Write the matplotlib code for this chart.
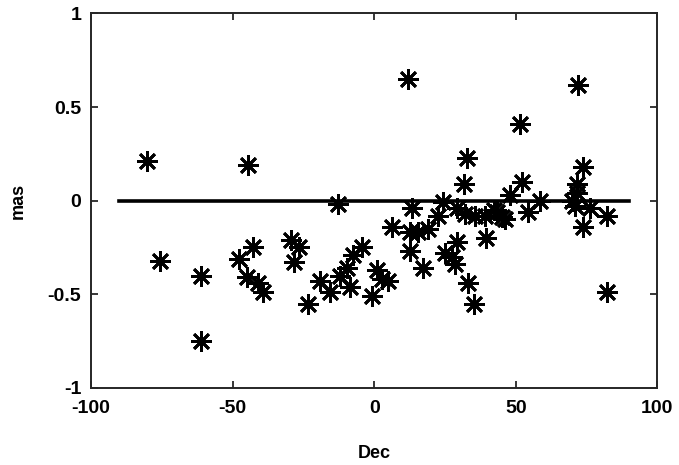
import matplotlib
matplotlib.use("Agg")
import matplotlib.pyplot as plt

plt.rcParams['font.family'] = ['Liberation Sans', 'DejaVu Sans']

dec = [-80.2, -44.5, -75.6, -61.1, -61.1, -47.7, -42.8, -44.9, -41.0, -39.2,
       -29.3, -26.5, -28.3, -23.3, -19.1, -15.5, -12.7, -12.0, -8.5, -9.5,
       -7.4, -4.2, 1.1, -0.7, 2.8, 4.9, 6.4, 12.0, 13.4, 12.7,
       15.5, 12.7, 17.3, 19.1, 22.6, 24.4, 29.3, 29.3, 25.1, 28.6,
       33.2, 35.3, 32.9, 31.8, 32.2, 35.7, 39.2, 39.6, 42.4, 45.2,
       46.3, 48.1, 51.6, 52.3, 54.4, 58.7, 72.1, 73.8, 71.7, 71.7,
       70.0, 71.0, 76.3, 73.9, 82.3, 82.3, 43.5, 27.5]
mas = [0.21, 0.19, -0.32, -0.40, -0.75, -0.31, -0.25, -0.41, -0.44, -0.49,
       -0.21, -0.25, -0.33, -0.55, -0.43, -0.49, -0.02, -0.40, -0.46, -0.36,
       -0.29, -0.25, -0.37, -0.51, -0.42, -0.43, -0.14, 0.65, -0.04, -0.17,
       -0.17, -0.27, -0.36, -0.15, -0.08, -0.005, -0.04, -0.22, -0.28, -0.34,
       -0.44, -0.55, 0.23, 0.09, -0.07, -0.08, -0.08, -0.20, -0.05, -0.09,
       -0.10, 0.03, 0.41, 0.10, -0.06, 0.0, 0.62, 0.18, 0.09, 0.04,
       0.0, -0.03, -0.04, -0.14, -0.08, -0.49, -0.06, -0.30]

ref_x = [-90, 90]
ref_y = [0, 0]

xticks = [-100, -50, 0, 50, 100]
yticks = [-1, -0.5, 0, 0.5, 1]
yticklabels = ['-1', '-0.5', '0', '0.5', '1']

fig = plt.figure(figsize=(6.79, 4.65), dpi=100)
ax = fig.add_axes([0.134, 0.166, 0.834, 0.805])

ax.plot(ref_x, ref_y, color='black', linewidth=2.6, zorder=2)
ax.plot(dec, mas, linestyle='none', marker=(8, 2, 0), markersize=15,
        markeredgewidth=2.0, color='black', zorder=3)

ax.set_xlim(-100, 100)
ax.set_ylim(-1, 1)
ax.set_xticks(xticks)
ax.set_xticklabels([str(t) for t in xticks])
ax.set_yticks(yticks)
ax.set_yticklabels(yticklabels)
ax.tick_params(direction='in', top=True, right=True, length=5, width=1.3,
               labelsize=14, colors='#262626', pad=7)
ax.tick_params(axis='x', pad=9)
for lab in ax.get_xticklabels() + ax.get_yticklabels():
    lab.set_fontweight('bold')
    lab.set_color('black')
for sp in ax.spines.values():
    sp.set_linewidth(1.4)
    sp.set_color('#262626')

ax.set_xlabel('Dec', fontsize=13, fontweight='bold', labelpad=20)
ax.set_ylabel('mas', fontsize=13, fontweight='bold', labelpad=15)

fig.savefig('out.png', dpi=100)
